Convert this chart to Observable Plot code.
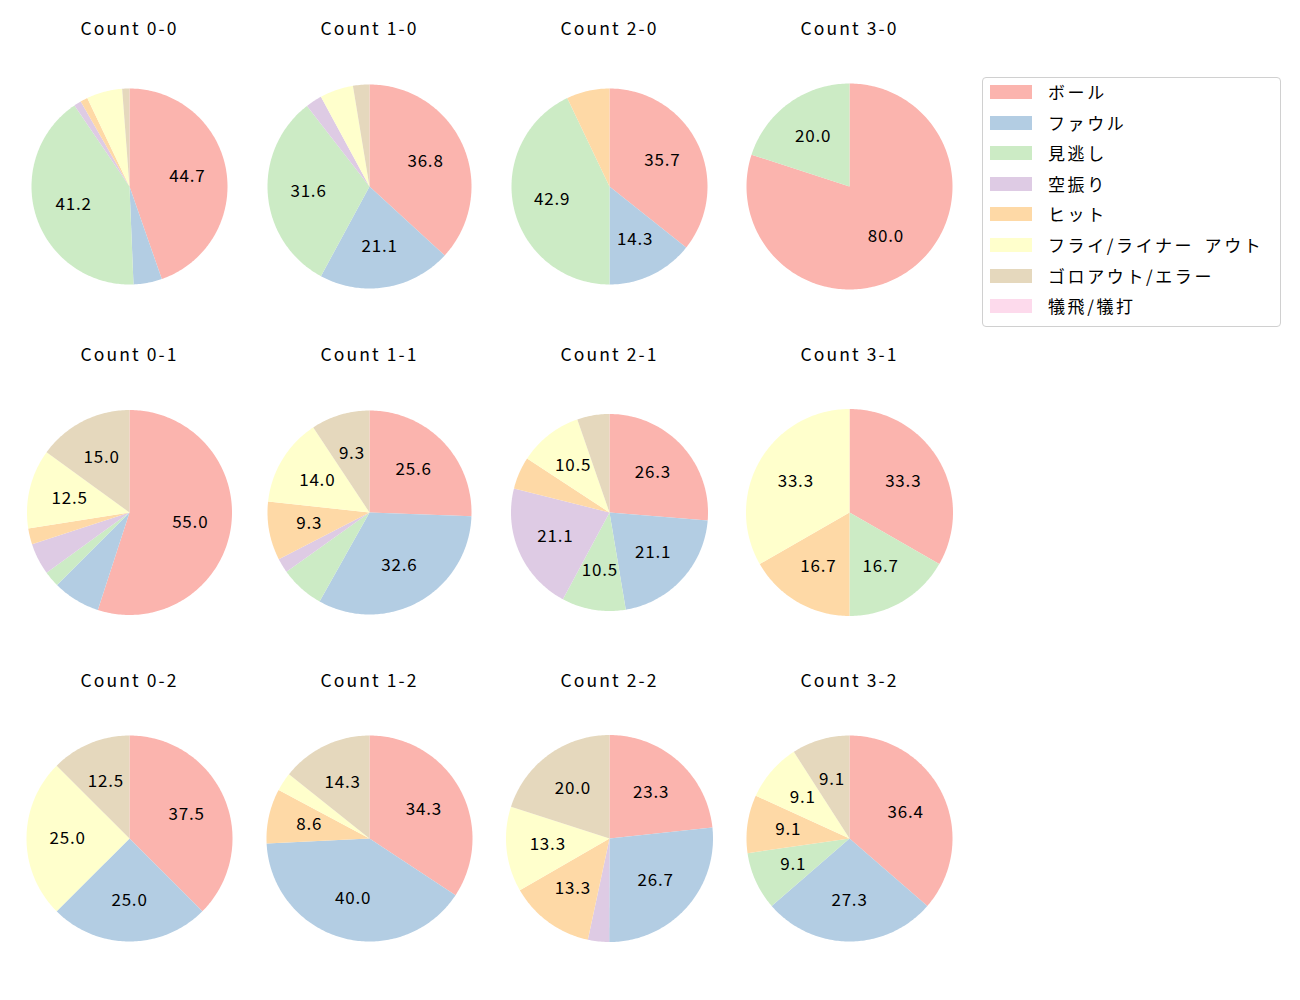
<!DOCTYPE html>
<html>
<head>
<meta charset="utf-8">
<script src="https://cdn.jsdelivr.net/npm/d3@7"></script>
<script src="https://cdn.jsdelivr.net/npm/@observablehq/plot@0.6"></script>
<style>
  body { margin: 0; background: #fff; font-family: "Noto Sans CJK JP", "Noto Sans", sans-serif; }
  #root { position: relative; width: 1300px; height: 1000px; }
  .cell { position: absolute; }
  .cell svg { overflow: visible; }
  #legend { position: absolute; left: 982px; top: 77px; width: 297px; height: 248px;
            border: 1px solid #d0d0d0; border-radius: 4px; background: #fff; }
  .sw { position: absolute; left: 7px; width: 42px; height: 14px; }
  .lt { position: absolute; left: 65px; font-size: 17px; white-space: nowrap; color: #000; line-height: 20px;
        letter-spacing: 2.6px; word-spacing: 4px; }
</style>
</head>
<body>
<div id="root"><div id="legend"></div></div>
<script>
// ---- data ----
const categories = ["ボール", "ファウル", "見逃し", "空振り", "ヒット", "フライ/ライナー アウト", "ゴロアウト/エラー", "犠飛/犠打"];
const colors = ["#fbb4ae", "#b3cde3", "#ccebc5", "#decbe4", "#fed9a6", "#ffffcc", "#e5d8bd", "#fddaec"];
const counts = ["0-0", "1-0", "2-0", "3-0", "0-1", "1-1", "2-1", "3-1", "0-2", "1-2", "2-2", "3-2"];
const v00 = [44.7, 4.7, 41.2, 1.2, 1.2, 5.9, 1.2, 0];
const v10 = [36.8, 21.1, 31.6, 2.6, 0, 5.3, 2.6, 0];
const v20 = [35.7, 14.3, 42.9, 0, 7.1, 0, 0, 0];
const v30 = [80.0, 0, 20.0, 0, 0, 0, 0, 0];
const v01 = [55.0, 7.5, 2.5, 5.0, 2.5, 12.5, 15.0, 0];
const v11 = [25.6, 32.6, 7.0, 2.3, 9.3, 14.0, 9.3, 0];
const v21 = [26.3, 21.1, 10.5, 21.1, 5.3, 10.5, 5.3, 0];
const v31 = [33.3, 0, 16.7, 0, 16.7, 33.3, 0, 0];
const v02 = [37.5, 25.0, 0, 0, 0, 25.0, 12.5, 0];
const v12 = [34.3, 40.0, 0, 0, 8.6, 2.9, 14.3, 0];
const v22 = [23.3, 26.7, 0, 3.3, 13.3, 13.3, 20.0, 0];
const v32 = [36.4, 27.3, 9.1, 0, 9.1, 9.1, 9.1, 0];
const seriesValues = [v00, v10, v20, v30, v01, v11, v21, v31, v02, v12, v22, v32];

// ---- layout ----
const radii = [98, 102, 98, 103, 102.5, 102, 98.5, 103.5, 103, 103, 103.5, 103];
const colX = [9, 249, 489, 729];
const rowCenterY = [186, 512, 838];
const cellW = 240, cellH = 326, topAbove = 175;
const fontFam = '"Noto Sans CJK JP", "Noto Sans", sans-serif';

const root = document.getElementById("root");

counts.forEach((cnt, k) => {
  const vals = seriesValues[k];
  const total = d3.sum(vals);
  const r = radii[k];
  const slices = [];
  const labels = [];
  let acc = 0;
  vals.forEach((v, i) => {
    if (v <= 0) return;
    const a0 = acc / total * 2 * Math.PI;
    acc += v;
    const a1 = acc / total * 2 * Math.PI;
    const n = Math.max(2, Math.ceil((a1 - a0) / (Math.PI / 180)));
    slices.push({cat: categories[i], x: 0, y: 0});
    for (let j = 0; j <= n; j++) {
      const a = a0 + (a1 - a0) * j / n;
      slices.push({cat: categories[i], x: r * Math.sin(a), y: r * Math.cos(a)});
    }
    const pct = v / total * 100;
    if (pct >= 8) {
      const am = (a0 + a1) / 2;
      labels.push({x: 0.6 * r * Math.sin(am), y: 0.6 * r * Math.cos(am), text: pct.toFixed(1)});
    }
  });

  const plot = Plot.plot({
    width: cellW,
    height: cellH,
    margin: 0,
    style: {fontFamily: fontFam, background: "transparent", overflow: "visible"},
    x: {domain: [-cellW / 2, cellW / 2], axis: null},
    y: {domain: [topAbove - cellH, topAbove], axis: null},
    color: {domain: categories, range: colors},
    marks: [
      Plot.line(slices, {x: "x", y: "y", z: "cat", fill: "cat", stroke: "none", curve: "linear-closed"}),
      Plot.text(labels, {x: "x", y: "y", text: "text", fontSize: 17, fill: "#000"}),
      Plot.text([`Count ${cnt}`], {x: [0], y: [topAbove - 18], text: d => d, fontSize: 17.5, fill: "#000"})
    ]
  });
  const textGroups = plot.querySelectorAll('g[aria-label="text"]');
  if (textGroups[0]) textGroups[0].setAttribute("letter-spacing", "0.8");
  if (textGroups[1]) textGroups[1].setAttribute("letter-spacing", "2.1");
  const div = document.createElement("div");
  div.className = "cell";
  div.style.left = colX[k % 4] + "px";
  div.style.top = (rowCenterY[Math.floor(k / 4)] - topAbove) + "px";
  div.appendChild(plot);
  root.appendChild(div);
});

// legend
const legend = document.getElementById("legend");
categories.forEach((c, i) => {
  const top = 4 + i * 30.6;
  const sw = document.createElement("div");
  sw.className = "sw";
  sw.style.top = (top + 3) + "px";
  sw.style.background = colors[i];
  legend.appendChild(sw);
  const t = document.createElement("div");
  t.className = "lt";
  t.style.top = top + "px";
  t.textContent = c;
  legend.appendChild(t);
});
</script>
</body>
</html>
